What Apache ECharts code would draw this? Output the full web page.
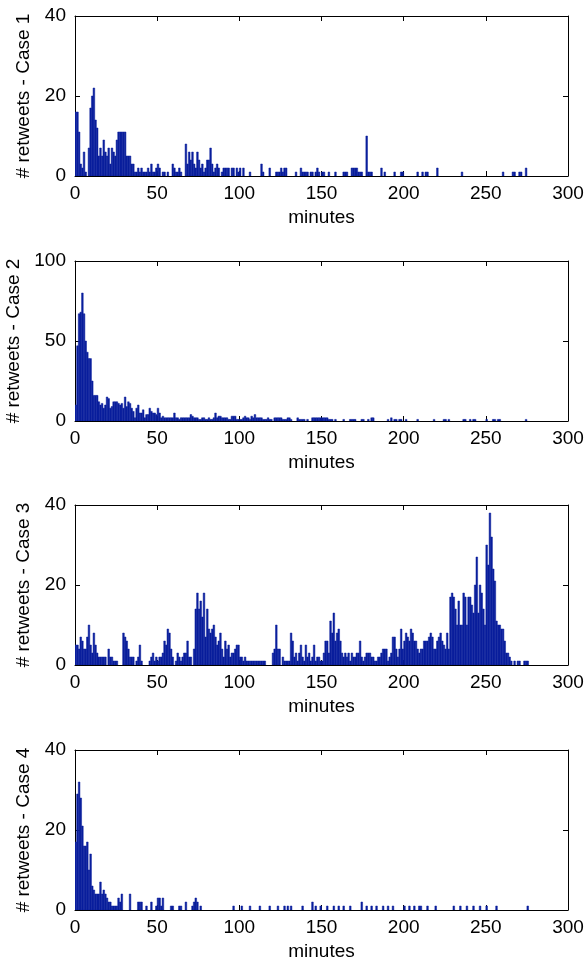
<!DOCTYPE html>
<html><head><meta charset="utf-8">
<script src="https://cdn.jsdelivr.net/npm/echarts@6/dist/echarts.min.js"></script>
<style>html,body{margin:0;padding:0;background:#fff}#c{width:587px;height:965px}</style>
</head><body><div id="c"></div>
<script>
// ---- data: retweets per one-minute bin, minute 0..279 ----
const case1 = [
16,16,11,3,2,6,1,0,7,17, 20,22,14,12,5,7,5,9,6,5, 7,3,7,6,5,9,11,11,11,11,
11,5,5,5,3,3,1,1,2,1, 2,1,1,1,2,1,3,1,1,2, 3,2,0,1,1,0,1,0,0,3,
2,1,1,2,1,0,0,8,3,6, 4,6,3,2,6,4,2,3,1,2, 4,4,7,3,1,2,3,2,0,1,
2,2,2,2,0,2,2,0,2,1, 2,0,2,0,0,0,1,0,0,0, 0,0,0,3,1,0,0,0,2,0,
0,0,1,1,1,2,1,2,2,0, 0,0,0,0,1,0,0,2,1,1, 1,1,0,1,1,0,1,2,1,0,
1,1,0,0,1,0,0,0,1,0, 0,0,0,1,1,1,0,0,2,2, 2,2,1,1,1,0,0,10,1,1,
1,0,0,0,0,0,2,0,1,0, 0,0,0,0,1,0,0,0,1,1, 0,0,0,0,0,0,0,0,1,0,
0,1,0,1,1,0,0,0,0,0, 2,0,0,0,0,0,0,0,0,0, 0,0,0,0,0,1,0,0,0,0,
0,0,0,0,0,0,0,0,0,0, 0,0,0,0,0,0,0,0,0,0, 1,0,0,0,0,0,1,1,0,0,
1,1,0,0,2,0,0,0,0,0];
const case2 = [
10,47,67,68,80,67,50,43,39,39, 25,16,16,16,12,10,11,8,10,15, 14,8,9,12,12,12,11,10,11,8,
15,9,12,11,8,6,2,8,10,5, 5,7,2,4,4,8,6,5,5,4, 8,5,2,3,2,2,2,2,2,2,
5,2,2,1,2,2,2,2,2,2, 4,3,2,2,2,1,1,2,2,1, 1,2,1,1,2,5,2,3,3,2,
2,2,2,1,1,3,3,3,1,1, 1,1,2,3,2,2,1,3,2,4, 2,2,2,2,1,1,1,2,1,1,
0,2,2,2,2,2,1,1,1,2, 2,1,0,0,0,2,1,1,1,1, 0,1,0,0,2,2,2,2,2,2,
2,2,2,2,1,1,1,0,1,0, 0,0,0,1,0,0,0,1,1,1, 1,0,0,0,1,1,0,0,1,0,
2,2,0,0,0,0,0,0,0,0, 1,0,2,0,1,1,0,1,1,0, 0,1,0,0,0,0,0,0,1,0,
0,0,0,0,0,0,0,0,1,0, 0,0,0,0,1,1,0,1,0,0, 0,0,0,0,0,0,1,1,0,0,
1,0,1,1,0,0,0,0,0,0, 1,0,0,0,1,1,0,1,1,0, 0,0,0,0,0,0,0,0,0,0,
0,0,0,0,1,0,0,0,0,0];
const case3 = [
5,5,4,7,6,4,4,7,10,5, 3,8,5,3,2,2,2,2,2,0, 4,2,2,1,1,1,0,0,0,8,
7,6,4,2,2,2,0,1,2,5, 1,0,0,0,0,1,2,3,1,2, 1,2,2,3,6,5,9,8,4,2,
0,1,3,2,1,2,3,3,6,2, 2,0,4,14,18,14,16,12,18,7, 14,9,8,9,10,7,5,6,8,4,
2,6,4,5,2,3,3,4,5,5, 2,2,1,2,1,1,1,1,1,1, 1,1,1,1,1,1,0,0,0,0,
3,4,10,4,4,0,2,1,1,1, 1,8,6,2,3,1,3,5,2,1, 5,2,3,1,2,5,1,2,2,1,
1,3,6,6,3,11,8,13,6,8, 9,6,3,2,3,2,3,1,3,2, 2,3,3,6,2,1,2,3,3,3,
2,2,1,1,2,2,3,4,4,4, 1,2,3,7,7,4,2,4,9,4, 6,8,7,6,9,8,6,6,4,3,
4,4,6,6,6,7,8,7,4,4, 6,7,8,6,5,4,8,4,17,18, 17,14,10,16,10,10,18,17,10,17,
17,15,13,20,27,13,20,18,14,10, 30,25,38,32,24,21,11,10,10,9, 9,6,3,3,2,1,0,1,0,1,
1,0,0,1,1,1,0,0,0,0];
const case4 = [
17,29,32,28,21,16,16,17,10,14, 6,5,4,4,4,7,4,5,4,3, 2,2,1,1,1,1,3,2,4,0,
0,0,0,4,0,0,0,0,2,2, 2,0,0,1,0,0,2,0,0,1, 3,3,1,3,0,0,0,0,1,1,
0,0,0,1,1,0,0,2,0,0, 0,1,2,3,2,0,1,0,0,0, 0,0,0,0,0,0,0,0,0,0,
0,0,0,0,0,0,1,0,0,0, 0,1,0,0,0,0,1,0,0,0, 0,0,1,0,0,0,0,0,1,0,
0,0,0,1,0,0,0,1,0,1, 0,1,0,0,0,0,0,0,1,0, 0,0,0,0,2,0,1,0,0,1,
0,0,0,1,0,0,0,1,0,0, 1,0,0,1,0,0,0,1,0,0, 0,0,0,0,2,0,0,1,0,0,
1,0,0,1,0,0,0,1,0,0, 1,0,0,1,0,0,0,0,0,0, 1,0,0,1,0,0,1,0,0,1,
1,0,0,0,1,0,0,0,0,1, 0,0,0,0,0,0,0,0,0,0, 1,0,0,0,1,0,0,0,1,0,
0,0,1,0,0,0,1,0,0,0, 1,0,0,0,0,0,1,0,0,0, 0,0,0,0,0,0,0,0,0,0,
0,0,0,0,0,1,0,0,0,0];
const seriesValues = [case1, case2, case3, case4];
const yLabels = ['# retweets - Case 1', '# retweets - Case 2', '# retweets - Case 3', '# retweets - Case 4'];
const xLabel = 'minutes';
const xTicks = [0, 50, 100, 150, 200, 250, 300];
const yMaxes = [40, 100, 40, 40];
const ySteps = [20, 50, 20, 20];

// ---- style / layout ----
const barColor = '#0a1f9c';
const font = 'Liberation Sans, Arial, Helvetica, sans-serif';
const fs = 19;
const tops = [16, 261, 505, 750];
const gridH = 160;

const chart = echarts.init(document.getElementById('c'), null, {renderer: 'canvas'});
const grids = [], xAxes = [], yAxes = [], series = [];
const axisLine = {show: true, onZero: false, lineStyle: {color: '#000', width: 1}};
const tick = {show: true, inside: true, length: 5, lineStyle: {color: '#000', width: 1}};

function renderBar(params, api) {
  const m = api.value(0), v = api.value(1);
  if (!v) return null;
  const a = api.coord([m, v]);
  const b = api.coord([m + 1, 0]);
  return {type: 'rect', shape: {x: a[0], y: a[1], width: b[0] - a[0], height: b[1] - a[1]},
          style: {fill: barColor, stroke: barColor, lineWidth: 0.5}};
}

for (let i = 0; i < 4; i++) {
  grids.push({left: 75, width: 493, top: tops[i], height: gridH, show: false, containLabel: false, outerBoundsMode: 'none'});
  const xMin = xTicks[0], xMax = xTicks[xTicks.length - 1], xStep = xTicks[1] - xTicks[0];
  xAxes.push({type: 'value', gridIndex: i, min: xMin, max: xMax, interval: xStep, position: 'bottom',
    axisLine, axisTick: tick, splitLine: {show: false},
    axisLabel: {color: '#000', fontSize: fs, fontFamily: font, margin: 8},
    name: xLabel, nameLocation: 'middle', nameGap: 32,
    nameTextStyle: {color: '#000', fontSize: fs, fontFamily: font}});
  xAxes.push({type: 'value', gridIndex: i, min: xMin, max: xMax, interval: xStep, position: 'top',
    axisLine, axisTick: tick, splitLine: {show: false}, axisLabel: {show: false}});
  yAxes.push({type: 'value', gridIndex: i, min: 0, max: yMaxes[i], interval: ySteps[i], position: 'left',
    axisLine, axisTick: tick, splitLine: {show: false},
    axisLabel: {color: '#000', fontSize: fs, fontFamily: font, margin: 9},
    name: yLabels[i], nameLocation: 'middle', nameGap: 42,
    nameTextStyle: {color: '#000', fontSize: fs, fontFamily: font}});
  yAxes.push({type: 'value', gridIndex: i, min: 0, max: yMaxes[i], interval: ySteps[i], position: 'right',
    axisLine, axisTick: tick, splitLine: {show: false}, axisLabel: {show: false}});
  series.push({type: 'custom', xAxisIndex: 2 * i, yAxisIndex: 2 * i, renderItem: renderBar,
    encode: {x: 0, y: 1}, silent: true, animation: false, clip: true,
    data: seriesValues[i].map((v, m) => [m, v])});
}

chart.setOption({animation: false, backgroundColor: '#fff', grid: grids, xAxis: xAxes, yAxis: yAxes, series});
</script>
</body></html>
